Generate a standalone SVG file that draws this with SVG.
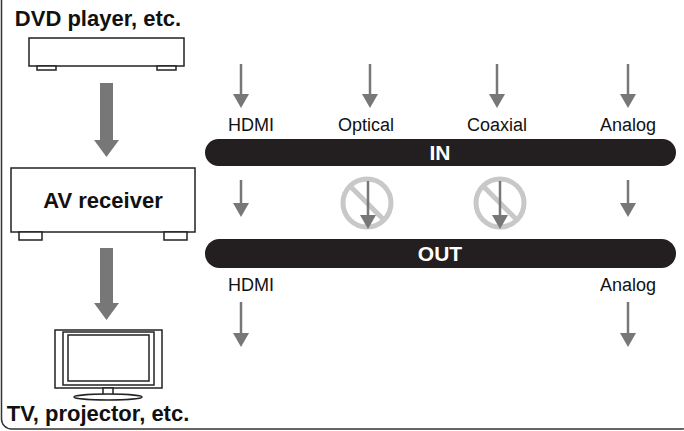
<svg xmlns="http://www.w3.org/2000/svg" width="684" height="431" viewBox="0 0 684 431">
<style>
.t{font-family:"Liberation Sans",Arial,sans-serif;font-weight:bold;fill:#111}
.l{font-family:"Liberation Sans",Arial,sans-serif;font-size:18px;fill:#111}
.b{font-family:"Liberation Sans",Arial,sans-serif;font-weight:bold;font-size:21px;fill:#fff}
.o{fill:#fff;stroke:#222;stroke-width:1.5}
.sa{stroke:#777;stroke-width:2.5}
.ah{fill:#777}
.no{fill:none;stroke:#c8c8c8;stroke-width:5}
</style>
<rect x="1.5" y="-10" width="690" height="439" rx="10" fill="none" stroke="#333" stroke-width="1.5"/>
<g id="dvd">
<text class="t" x="98" y="26" font-size="22" text-anchor="middle">DVD player, etc.</text>
<rect class="o" x="29" y="38" width="155" height="28"/>
<rect class="o" x="37" y="66" width="19" height="4"/>
<rect class="o" x="157" y="66" width="19" height="4"/>
</g>
<g id="receiver">
<rect class="o" x="11" y="168" width="184" height="64" stroke-width="2.5"/>
<text class="t" x="103" y="208" font-size="22" text-anchor="middle">AV receiver</text>
<rect class="o" x="19" y="232" width="23" height="8" stroke-width="2"/>
<rect class="o" x="164" y="232" width="23" height="8" stroke-width="2"/>
</g>
<g id="tv">
<rect class="o" x="55" y="330" width="107" height="58"/>
<rect class="o" x="63" y="332" width="91" height="53"/>
<rect class="o" x="68" y="335" width="81" height="46"/>
<rect class="o" x="103" y="388" width="10" height="7"/>
<ellipse class="o" cx="108" cy="397" rx="34" ry="3"/>
<text class="t" x="98" y="421" font-size="22" text-anchor="middle">TV, projector, etc.</text>
</g>
<g id="in">
<rect x="205" y="139" width="471" height="27" rx="13.5" fill="#231f20"/>
<text class="b" x="440" y="160" text-anchor="middle">IN</text>
</g>
<g id="out">
<rect x="205" y="239" width="471" height="29" rx="14.5" fill="#231f20"/>
<text class="b" x="440" y="261" text-anchor="middle">OUT</text>
</g>
<g id="labels">
<text class="l" x="251" y="131" text-anchor="middle">HDMI</text>
<text class="l" x="366" y="131" text-anchor="middle">Optical</text>
<text class="l" x="497" y="131" text-anchor="middle">Coaxial</text>
<text class="l" x="628" y="131" text-anchor="middle">Analog</text>
<text class="l" x="251" y="291" text-anchor="middle">HDMI</text>
<text class="l" x="628" y="291" text-anchor="middle">Analog</text>
</g>
<g id="connectors">
<rect x="100" y="83" width="13" height="57" fill="#777"/>
<polygon class="ah" points="94,140 119,140 106.5,157"/>
<rect x="100" y="248" width="13" height="55" fill="#777"/>
<polygon class="ah" points="94,303 119,303 106.5,320"/>
<g>
<line class="sa" x1="241" y1="64" x2="241" y2="95"/><polygon class="ah" points="233,94 249,94 241,108"/>
<line class="sa" x1="370" y1="64" x2="370" y2="95"/><polygon class="ah" points="362,94 378,94 370,108"/>
<line class="sa" x1="497" y1="64" x2="497" y2="95"/><polygon class="ah" points="489,94 505,94 497,108"/>
<line class="sa" x1="628" y1="64" x2="628" y2="95"/><polygon class="ah" points="620,94 636,94 628,108"/>
<line class="sa" x1="241" y1="180" x2="241" y2="204"/><polygon class="ah" points="233,203 249,203 241,217"/>
<line class="sa" x1="628" y1="180" x2="628" y2="204"/><polygon class="ah" points="620,203 636,203 628,217"/>
<line class="sa" x1="241" y1="302" x2="241" y2="334"/><polygon class="ah" points="233,333 249,333 241,347"/>
<line class="sa" x1="628" y1="302" x2="628" y2="334"/><polygon class="ah" points="620,333 636,333 628,347"/>
</g>
<g>
<circle class="no" cx="367" cy="203" r="24"/><line class="no" x1="350" y1="186" x2="384" y2="220"/>
<line class="sa" x1="368" y1="181" x2="368" y2="217"/><polygon class="ah" points="360,215 376,215 368,229"/>
<circle class="no" cx="500" cy="203" r="24"/><line class="no" x1="483" y1="186" x2="517" y2="220"/>
<line class="sa" x1="500" y1="181" x2="500" y2="217"/><polygon class="ah" points="492,215 508,215 500,229"/>
</g>
</g>
</svg>
